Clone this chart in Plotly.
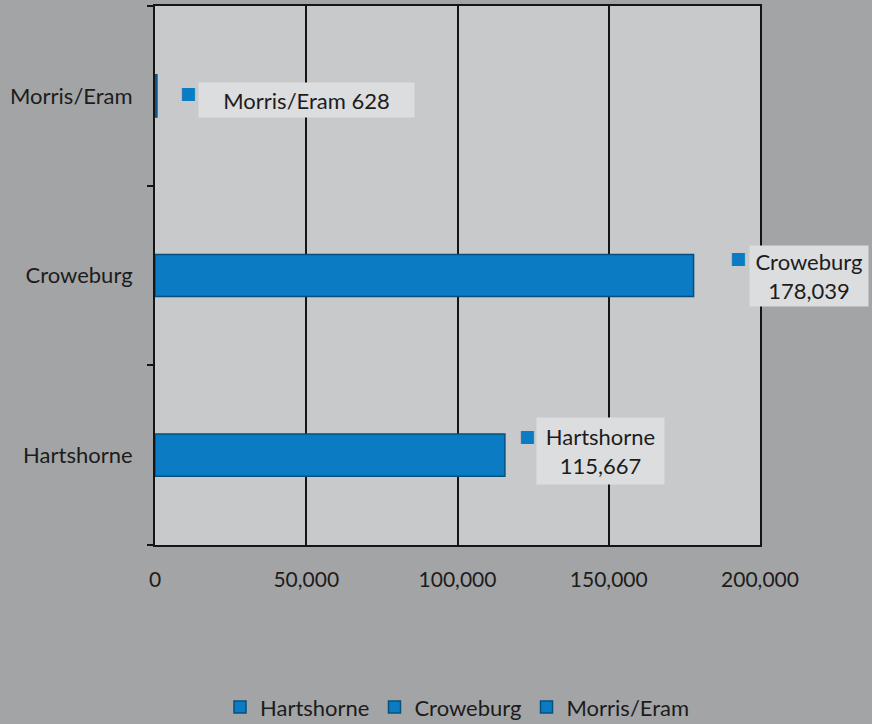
import plotly.graph_objects as go

# Production by mine
categories = ["Hartshorne", "Croweburg", "Morris/Eram"]
values = [115667, 178039, 628]
x_ticks = [0, 50000, 100000, 150000, 200000]
x_tick_text = ["0", "50,000", "100,000", "150,000", "200,000"]

BLUE = "#0b7cc4"
EDGE = "#06507f"
FONT = "Lato, 'Open Sans', sans-serif"
TXT = "#1c1c1c"

fig = go.Figure()
for name, val in zip(categories, values):
    fig.add_trace(go.Bar(
        name=name, y=[name], x=[val], orientation="h", width=0.235,
        marker=dict(color=BLUE, line=dict(color=EDGE, width=1.5)),
        hoverinfo="x+y",
    ))

# value labels: key x-shift, box x-shift, key y-shift, box y-shift, box width, box height, padding, two-line
label_pos = {
    "Hartshorne": (22, 96, 19, 4, 115, 54, 6, True),
    "Croweburg": (44, 115, 18, 0, 110, 52, 4, True),
    "Morris/Eram": (31, 150, 3, -4, 203, 22, 6, False),
}
annotations = []
for name, val in zip(categories, values):
    kx, bx, ky, by, bw, bh, pad, two = label_pos[name]
    txt = f"{name}<br>{val:,}" if two else f"{name} {val:,}"
    annotations.append(dict(
        x=val, y=name, xref="x", yref="y", text=txt, showarrow=False,
        xshift=bx, yshift=by, align="center", valign="middle",
        width=bw, height=bh,
        bgcolor="#dcdddf", borderpad=pad,
        font=dict(family=FONT, size=22, color=TXT),
    ))
    annotations.append(dict(
        x=val, y=name, xref="x", yref="y", text="■", showarrow=False,
        xshift=kx, yshift=ky, font=dict(family="DejaVu Sans", size=17, color=BLUE),
    ))

fig.update_layout(
    width=872, height=724,
    margin=dict(l=155, r=112, t=6, b=179, autoexpand=False),
    paper_bgcolor="#a3a4a6",
    plot_bgcolor="#c7c9cb",
    barmode="overlay",
    showlegend=True,
    legend=dict(orientation="h", x=0.5, xanchor="center", y=-0.262, yanchor="top",
                font=dict(family=FONT, size=22, color=TXT), itemwidth=30,
                traceorder="normal", bgcolor="rgba(0,0,0,0)"),
    font=dict(family=FONT, size=22, color=TXT),
    annotations=annotations,
    xaxis=dict(range=[0, 200000], tickvals=x_ticks, ticktext=x_tick_text,
               showgrid=True, gridcolor="#151515", gridwidth=2,
               showline=True, linecolor="#151515", linewidth=2, mirror=True,
               zeroline=False, ticks="", ticklabelstandoff=15,
               tickfont=dict(family=FONT, size=21, color=TXT)),
    yaxis=dict(type="category", categoryorder="array", categoryarray=categories,
               showgrid=False, showline=True, linecolor="#151515", linewidth=2, mirror=True,
               ticks="outside", tickson="boundaries", ticklen=6, tickwidth=2,
               tickcolor="#151515", ticklabelstandoff=16,
               tickfont=dict(family=FONT, size=22, color=TXT)),
)

fig.write_html("out.html")
